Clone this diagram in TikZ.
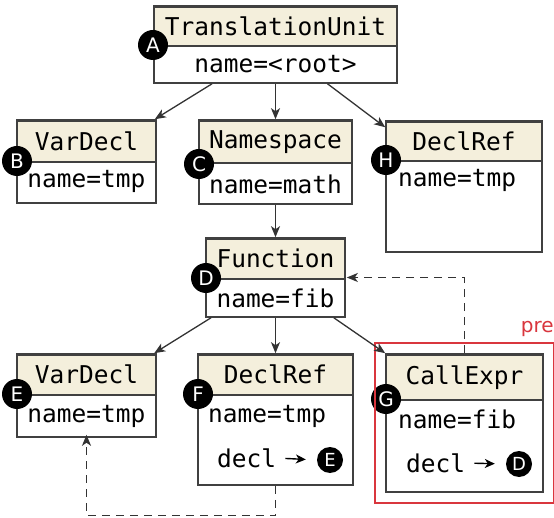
\documentclass[tikz,border=0pt]{standalone}
\usepackage{fontspec}
\setmonofont{DejaVu Sans Mono}
\newfontfamily\badgefont{DejaVu Sans}
\usetikzlibrary{arrows.meta,fit,positioning}
\definecolor{hdrfill}{HTML}{F4EFDC}
\definecolor{bordercol}{HTML}{404040}
\definecolor{edgecol}{HTML}{333333}
\definecolor{prered}{HTML}{D9363E}
\tikzset{
  box/.style={draw=bordercol, line width=1.6pt, rectangle, inner sep=0pt},
  hdr/.style={draw=bordercol, fill=hdrfill, line width=1.6pt, rectangle, inner sep=0pt, anchor=north, font=\ttfamily\fontsize{24.5}{28}\selectfont},
  txt/.style={inner sep=0pt, font=\ttfamily\fontsize{24.5}{28}\selectfont},
  badge/.style={circle, fill=black, text=white, inner sep=0pt, minimum size=30pt, font=\badgefont\fontsize{20}{20}\selectfont},
  smallbadge/.style={circle, fill=black, text=white, inner sep=0pt, minimum size=26pt, font=\badgefont\fontsize{18}{18}\selectfont},
  edge/.style={draw=edgecol, line width=1.3pt, -{Stealth[length=11pt,width=9pt,inset=3pt]}},
  refedge/.style={draw=edgecol, line width=1.3pt, dash pattern=on 8pt off 6pt, -{Stealth[length=11pt,width=9pt,inset=3pt]}},
  declarrow/.style={draw=black, line width=1.4pt, -{Stealth[length=10pt,width=9pt,inset=3pt]}, shorten <=9pt, shorten >=11pt},
}
\begin{document}
\begin{tikzpicture}[x=1pt,y=-1pt]
\useasboundingbox (0,0) rectangle (554,518);
% TranslationUnit
\node[hdr, minimum width=243pt, minimum height=39pt] (tuh) at (275.5,6) {TranslationUnit};
\node[box, minimum width=243pt, minimum height=77pt] (tu) at (275.5,44.5) {};
\node[txt] (tun) at (275.5,64) {name=<root>};
\node[badge] (ba) at (153,45) {A};
% VarDecl B
\node[hdr, minimum width=139pt, minimum height=41pt] (vbh) at (86.5,120) {VarDecl};
\node[box, minimum width=139pt, minimum height=83pt] (vb) at (86.5,161.5) {};
\node[txt] (vbn) at (86.5,181) {name=tmp};
\node[badge] (bb) at (17,161) {B};
% Namespace C
\node[hdr, minimum width=153pt, minimum height=42pt] (nsh) at (275.5,120) {Namespace};
\node[box, minimum width=153pt, minimum height=84pt] (ns) at (275.5,162) {};
\node[txt] (nsn) at (275.5,184) {name=math};
\node[badge] (bc) at (199,164) {C};
% DeclRef H
\node[hdr, minimum width=156pt, minimum height=39pt] (drh) at (464,121) {DeclRef};
\node[box, minimum width=156pt, minimum height=131pt] (dr) at (464,186.5) {};
\node[txt, anchor=west] (drn) at (398,180) {name=tmp};
\node[badge] (bh) at (386,160) {H};
% Function D
\node[hdr, minimum width=139pt, minimum height=40pt] (fnh) at (275.5,238) {Function};
\node[box, minimum width=139pt, minimum height=79pt] (fn) at (275.5,277.5) {};
\node[txt] (fnn) at (275.5,298) {name=fib};
\node[badge] (bd) at (206,278) {D};
% VarDecl E
\node[hdr, minimum width=139pt, minimum height=40pt] (veh) at (86.5,354) {VarDecl};
\node[box, minimum width=139pt, minimum height=83pt] (ve) at (86.5,395.5) {};
\node[txt] (ven) at (86.5,416) {name=tmp};
\node[badge] (be) at (17,394) {E};
% DeclRef F
\node[hdr, minimum width=155pt, minimum height=40pt] (dfh) at (275.5,354) {DeclRef};
\node[box, minimum width=155pt, minimum height=131pt] (df) at (275.5,419.5) {};
\node[txt, anchor=west] (dfn) at (208,416) {name=tmp};
\node[txt, anchor=west] (dfd) at (217,458) {decl};
\node[smallbadge] (dfe) at (330,460) {E};
\node[badge] (bf) at (198,394) {F};
% CallExpr G
\node[hdr, minimum width=157pt, minimum height=45pt] (ceh) at (464.5,354) {CallExpr};
\node[box, minimum width=157pt, minimum height=138pt] (ce) at (464.5,423) {};
\node[txt, anchor=west] (cen) at (398,419) {name=fib};
\node[txt, anchor=west] (ced) at (406,463) {decl};
\node[smallbadge] (ced2) at (519,464) {D};
\node[badge] (bg) at (386,399) {G};
% pre highlight
\node[draw=prered, line width=2pt, inner sep=10pt, fit=(ce)] (pre) {};
\node[anchor=south east, inner sep=0pt, text=prered, font=\badgefont\fontsize{20}{20}\selectfont] (prelbl) at ([xshift=-1pt,yshift=5pt]pre.north east) {pre};
% tree edges
\draw[edge] (tu) -- (vb);
\draw[edge] (tu) -- (ns);
\draw[edge] (tu) -- (dr);
\draw[edge] (ns) -- (fn);
\draw[edge] (fn) -- (ve);
\draw[edge] (fn) -- (df);
\draw[edge] (fn) -- (ce.north west);
% decl arrows
\draw[declarrow] (dfd.east) -- (dfe.west);
\draw[declarrow] (ced.east) -- (ced2.west);
% reference edges
\draw[refedge] (df.south) -- ++(0,30) -| ([yshift=3pt]ve.south);
\draw[refedge] (ce.north) |- ([xshift=1pt]fn.east);
\end{tikzpicture}
\end{document}
